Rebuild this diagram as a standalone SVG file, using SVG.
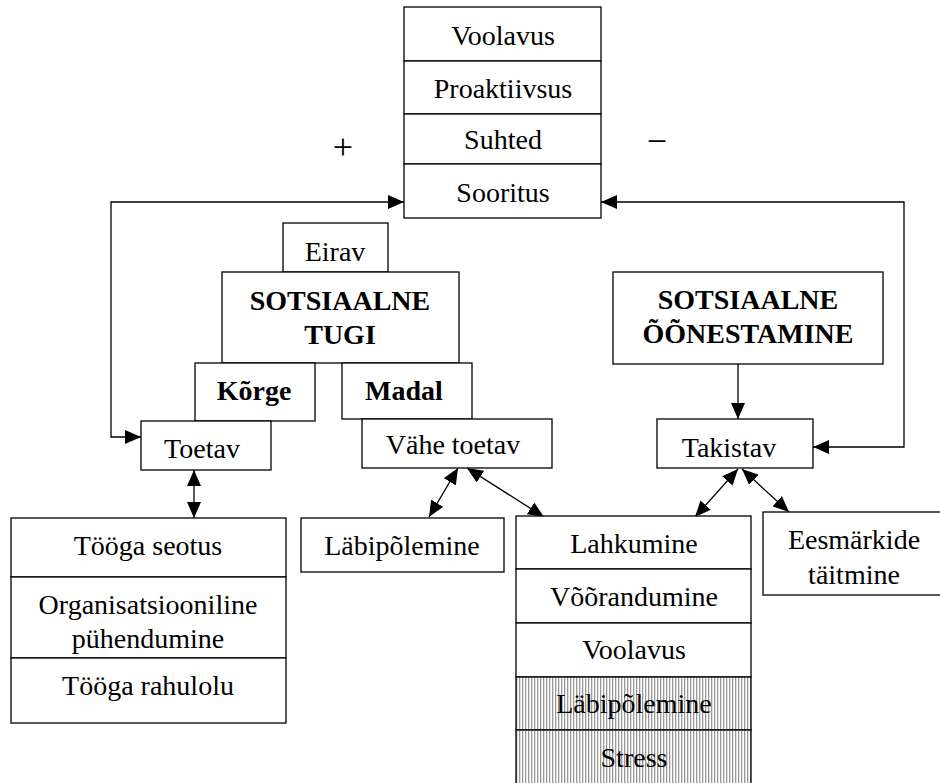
<svg xmlns="http://www.w3.org/2000/svg" width="940" height="783" viewBox="0 0 940 783">
<style>
.b{fill:#fff;stroke:#000;stroke-width:1.3}
.t{font-family:"Liberation Serif","Times New Roman",serif;font-size:28px;fill:#000;text-anchor:middle}
.bd{font-weight:bold}
.s{font-size:36px}
.c{fill:none;stroke:#000;stroke-width:1.3}
</style>
<defs>
<marker id="ah" markerUnits="userSpaceOnUse" markerWidth="16" markerHeight="14" refX="16" refY="7" orient="auto-start-reverse" viewBox="0 0 16 14">
<path d="M0,0 L16,7 L0,14 z" fill="#000"/>
</marker>
<pattern id="hatch" patternUnits="userSpaceOnUse" width="3" height="10">
<rect width="3" height="10" fill="#fff"/>
<rect x="0" width="1.3" height="10" fill="#999"/>
</pattern>
</defs>
<g id="connectors">
<path class="c" d="M404,202 H111 V437 H141" marker-start="url(#ah)" marker-end="url(#ah)"/>
<path class="c" d="M601,202 H904 V447 H813" marker-start="url(#ah)" marker-end="url(#ah)"/>
<path class="c" d="M738,364 V419" marker-end="url(#ah)"/>
<path class="c" d="M194,470 V518" marker-start="url(#ah)" marker-end="url(#ah)"/>
<path class="c" d="M458,468 L429,517" marker-start="url(#ah)" marker-end="url(#ah)"/>
<path class="c" d="M467,468 L544,517" marker-start="url(#ah)" marker-end="url(#ah)"/>
<path class="c" d="M738,469 L695,517" marker-start="url(#ah)" marker-end="url(#ah)"/>
<path class="c" d="M742,469 L789,512" marker-start="url(#ah)" marker-end="url(#ah)"/>
</g>
<g id="outcomes">
<rect class="b" x="404" y="7" width="197" height="54"/>
<text class="t" x="503" y="45">Voolavus</text>
<rect class="b" x="404" y="61" width="197" height="53"/>
<text class="t" x="503" y="98">Proaktiivsus</text>
<rect class="b" x="404" y="114" width="197" height="50"/>
<text class="t" x="503" y="149">Suhted</text>
<rect class="b" x="404" y="164" width="197" height="54"/>
<text class="t" x="503" y="202">Sooritus</text>
</g>
<g id="plus"><text class="t s" x="343" y="159">+</text></g>
<g id="minus"><text class="t s" x="657" y="153">−</text></g>
<g id="eirav">
<rect class="b" x="283" y="223" width="105" height="49"/>
<text class="t" x="335" y="261">Eirav</text>
</g>
<g id="sotsiaalne-tugi">
<rect class="b" x="222" y="272" width="237" height="91"/>
<text class="t bd" x="340" y="310">SOTSIAALNE</text>
<text class="t bd" x="340" y="344">TUGI</text>
</g>
<g id="korge">
<rect class="b" x="195" y="363" width="120" height="58"/>
<text class="t bd" x="254" y="400">Kõrge</text>
</g>
<g id="madal">
<rect class="b" x="342" y="363" width="130" height="56"/>
<text class="t bd" x="404" y="400">Madal</text>
</g>
<g id="toetav">
<rect class="b" x="141" y="421" width="130" height="49"/>
<text class="t" x="202" y="458">Toetav</text>
</g>
<g id="vahe-toetav">
<rect class="b" x="362" y="419" width="190" height="49"/>
<text class="t" x="453" y="454">Vähe toetav</text>
</g>
<g id="sotsiaalne-oonestamine">
<rect class="b" x="613" y="272" width="270" height="92"/>
<text class="t bd" x="748" y="309">SOTSIAALNE</text>
<text class="t bd" x="748" y="343">ÕÕNESTAMINE</text>
</g>
<g id="takistav">
<rect class="b" x="657" y="419" width="156" height="49"/>
<text class="t" x="729" y="457">Takistav</text>
</g>
<g id="toetav-outcomes">
<rect class="b" x="11" y="518" width="275" height="59"/>
<text class="t" x="148" y="555">Tööga seotus</text>
<rect class="b" x="11" y="577" width="275" height="81"/>
<text class="t" x="148" y="614">Organisatsiooniline</text>
<text class="t" x="148" y="648">pühendumine</text>
<rect class="b" x="11" y="658" width="275" height="65"/>
<text class="t" x="148" y="695">Tööga rahulolu</text>
</g>
<g id="labipolemine">
<rect class="b" x="301" y="518" width="203" height="54"/>
<text class="t" x="402" y="555">Läbipõlemine</text>
</g>
<g id="negative-outcomes">
<rect class="b" x="516" y="516" width="235" height="53"/>
<text class="t" x="634" y="553">Lahkumine</text>
<rect class="b" x="516" y="569" width="235" height="54"/>
<text class="t" x="634" y="606">Võõrandumine</text>
<rect class="b" x="516" y="623" width="235" height="54"/>
<text class="t" x="634" y="659">Voolavus</text>
<rect class="b" x="516" y="677" width="235" height="53" style="fill:url(#hatch)"/>
<text class="t" x="634" y="713">Läbipõlemine</text>
<rect class="b" x="516" y="730" width="235" height="60" style="fill:url(#hatch)"/>
<text class="t" x="634" y="767">Stress</text>
</g>
<g id="eesmarkide">
<rect class="b" x="763" y="512" width="183" height="83"/>
<text class="t" x="854" y="549">Eesmärkide</text>
<text class="t" x="854" y="584">täitmine</text>
</g>
</svg>
